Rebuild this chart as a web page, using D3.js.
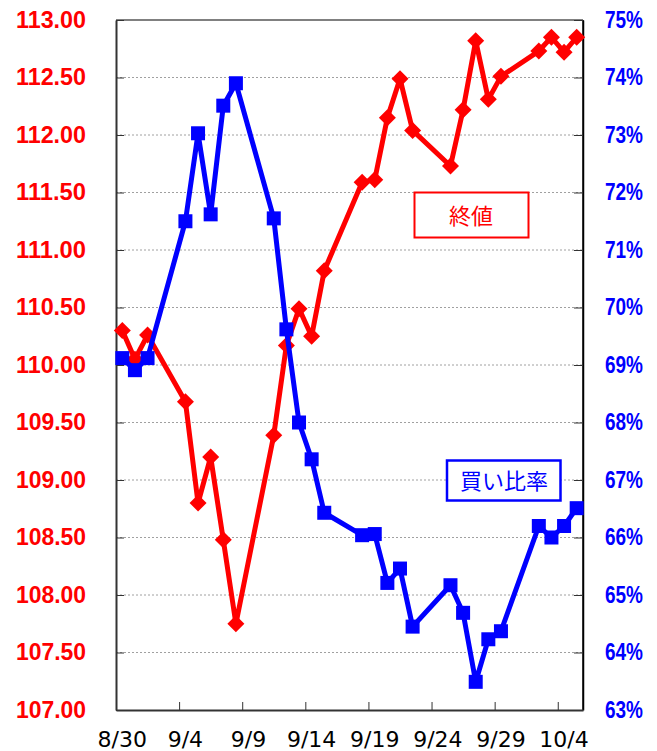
<!DOCTYPE html>
<html><head><meta charset="utf-8">
<script src="https://cdn.jsdelivr.net/npm/d3@7"></script>
<style>body{margin:0;background:#fff}svg{display:block}</style>
</head><body><div id="c"></div>
<script>
const dates = ["2017-08-30","2017-08-31","2017-09-01",
 "2017-09-04","2017-09-05","2017-09-06","2017-09-07","2017-09-08",
 "2017-09-11","2017-09-12","2017-09-13","2017-09-14","2017-09-15",
 "2017-09-18","2017-09-19","2017-09-20","2017-09-21","2017-09-22",
 "2017-09-25","2017-09-26","2017-09-27","2017-09-28","2017-09-29",
 "2017-10-02","2017-10-03","2017-10-04","2017-10-05"];
const closeValues = [110.30,110.05,110.26,
 109.68,108.80,109.20,108.48,107.75,
 109.39,110.17,110.49,110.25,110.82,
 111.59,111.61,112.15,112.49,112.04,
 111.73,112.22,112.82,112.31,112.51,
 112.73,112.85,112.72,112.85];
const buyRatio = [69.12,68.91,69.12,
 71.50,73.03,71.62,73.51,73.90,
 71.55,69.62,68.00,67.36,66.43,
 66.04,66.06,65.21,65.46,64.45,
 65.17,64.69,63.49,64.23,64.37,
 66.20,66.00,66.20,66.51];
const xTickDates = ["2017-08-30","2017-09-04","2017-09-09","2017-09-14","2017-09-19","2017-09-24","2017-09-29","2017-10-04"];
const leftTicks = [107,107.5,108,108.5,109,109.5,110,110.5,111,111.5,112,112.5,113];
const rightTicks = [63,64,65,66,67,68,69,70,71,72,73,74,75];
const legendClose = "終値";
const legendRatio = "買い比率";

const W = 657, H = 751;
const L = 116, R = 583, T = 20, B = 710;
const parse = s => { const [y,m,d] = s.split("-").map(Number); return new Date(y, m-1, d); };
const mid = d => d3.timeHour.offset(d, 12);

const x = d3.scaleTime().domain([parse("2017-08-30"), parse("2017-10-06")]).range([L, R]);
const yL = d3.scaleLinear().domain([107, 113]).range([B, T]);
const yR = d3.scaleLinear().domain([63, 75]).range([B, T]);

const svg = d3.select("#c").append("svg").attr("width", W).attr("height", H);

// gridlines
svg.append("g").selectAll("line").data(leftTicks.slice(1, -1)).join("line")
  .attr("x1", L).attr("x2", R).attr("y1", d => yL(d)).attr("y2", d => yL(d))
  .attr("stroke", "#a0a0a0").attr("stroke-width", 1).attr("stroke-dasharray", "2,2");

// frame: top gray, right black
svg.append("line").attr("x1", L).attr("x2", R).attr("y1", T).attr("y2", T)
  .attr("stroke", "#808080").attr("stroke-width", 2);
svg.append("line").attr("x1", R).attr("x2", R).attr("y1", T).attr("y2", B)
  .attr("stroke", "#000").attr("stroke-width", 1.5);

// left axis
const gL = svg.append("g").attr("transform", `translate(${L},0)`)
  .call(d3.axisLeft(yL).tickValues(leftTicks).tickSizeInner(-8).tickSizeOuter(0).tickPadding(30).tickFormat(d3.format(".2f")));
gL.select(".domain").attr("stroke", "#333").attr("stroke-width", 2);
gL.selectAll(".tick line").attr("stroke", "#333").attr("stroke-width", 1);
gL.selectAll(".tick text").attr("fill", "#ff0000").attr("font-family", "'Liberation Sans', Arial, sans-serif")
  .attr("font-weight", "bold").attr("font-size", 23).attr("textLength", 70).attr("lengthAdjust", "spacingAndGlyphs");

// right axis
const gR = svg.append("g").attr("transform", `translate(${R},0)`)
  .call(d3.axisRight(yR).tickValues(rightTicks).tickSizeInner(-9).tickSizeOuter(0).tickPadding(22).tickFormat(d => d + "%"));
gR.select(".domain").attr("stroke", "#000").attr("stroke-width", 1.5);
gR.selectAll(".tick line").attr("stroke", "#333").attr("stroke-width", 1);
gR.selectAll(".tick text").attr("fill", "#0000ff").attr("font-family", "'Liberation Sans', Arial, sans-serif")
  .attr("font-weight", "bold").attr("font-size", 23).attr("textLength", 38).attr("lengthAdjust", "spacingAndGlyphs");

// bottom axis
const gB = svg.append("g").attr("transform", `translate(0,${B})`)
  .call(d3.axisBottom(x).tickValues(xTickDates.map(parse)).tickSizeInner(-8).tickSizeOuter(0).tickFormat(""));
gB.select(".domain").attr("stroke", "#333").attr("stroke-width", 2);
gB.selectAll(".tick line").attr("stroke", "#333").attr("stroke-width", 1);
svg.append("g").selectAll("text").data(xTickDates.map(parse)).join("text")
  .attr("x", d => x(mid(d))).attr("y", 747).attr("text-anchor", "middle")
  .attr("font-family", "'DejaVu Sans', sans-serif").attr("font-size", 22).attr("fill", "#000")
  .text(d => (d.getMonth() + 1) + "/" + d.getDate());

const data = dates.map((s, i) => ({ d: mid(parse(s)), c: closeValues[i], r: buyRatio[i] }));

// close (red)
svg.append("path").datum(data)
  .attr("d", d3.line().x(d => x(d.d)).y(d => yL(d.c)))
  .attr("fill", "none").attr("stroke", "#ff0000").attr("stroke-width", 5).attr("stroke-linejoin", "round");
svg.append("g").selectAll("path").data(data).join("path")
  .attr("transform", d => `translate(${x(d.d)},${yL(d.c)})`)
  .attr("d", "M0,-8.5L8.5,0L0,8.5L-8.5,0Z").attr("fill", "#ff0000");

// ratio (blue)
svg.append("path").datum(data)
  .attr("d", d3.line().x(d => x(d.d)).y(d => yR(d.r)))
  .attr("fill", "none").attr("stroke", "#0000ff").attr("stroke-width", 5).attr("stroke-linejoin", "round");
svg.append("g").selectAll("rect").data(data).join("rect")
  .attr("x", d => x(d.d) - 7).attr("y", d => yR(d.r) - 7).attr("width", 14).attr("height", 14)
  .attr("fill", "#0000ff");

// legends
const lg1 = svg.append("g");
lg1.append("rect").attr("x", 414.5).attr("y", 192.5).attr("width", 114).attr("height", 45)
  .attr("fill", "#fff").attr("stroke", "#ff0000").attr("stroke-width", 2);
lg1.append("text").attr("x", 471).attr("y", 223.5).attr("text-anchor", "middle")
  .attr("font-family", "'Noto Sans CJK JP', sans-serif").attr("font-size", 22).attr("fill", "#ff0000").text(legendClose);
const lg2 = svg.append("g");
lg2.append("rect").attr("x", 447).attr("y", 460.5).attr("width", 113.5).attr("height", 40)
  .attr("fill", "#fff").attr("stroke", "#0000ff").attr("stroke-width", 2.5);
lg2.append("text").attr("x", 504).attr("y", 489).attr("text-anchor", "middle")
  .attr("font-family", "'Noto Sans CJK JP', sans-serif").attr("font-size", 22).attr("fill", "#0000ff").text(legendRatio);
</script></body></html>
